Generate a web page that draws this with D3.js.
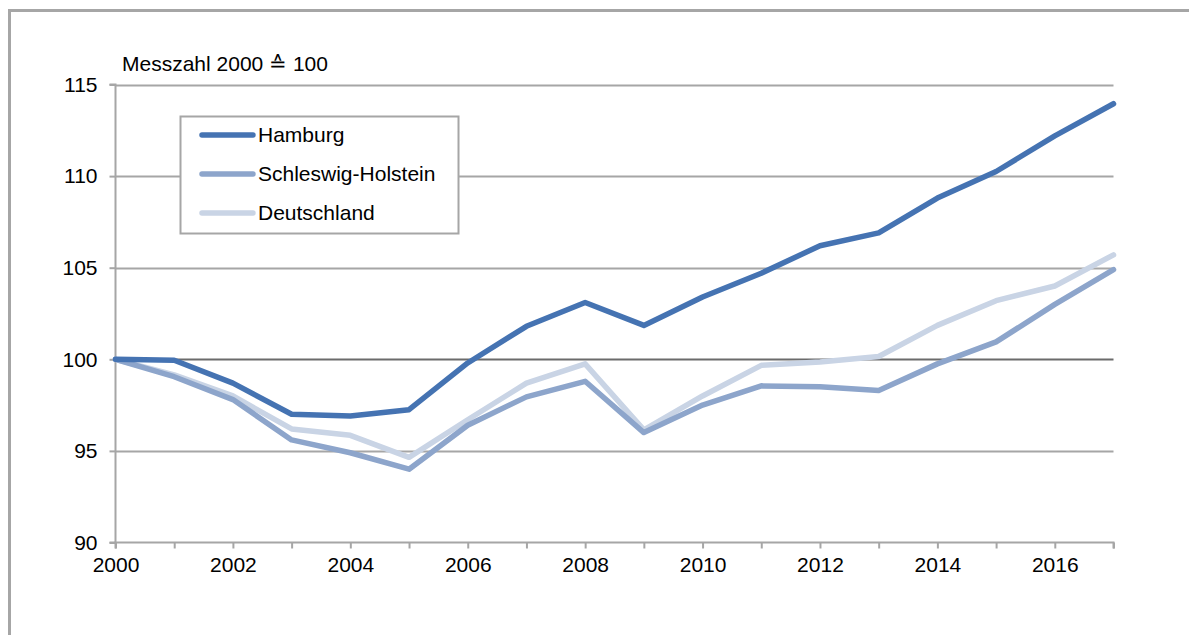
<!DOCTYPE html>
<html>
<head>
<meta charset="utf-8">
<script src="https://cdn.jsdelivr.net/npm/d3@7"></script>
<style>
  body { margin: 0; background: #fff; }
  text { font-family: "Liberation Sans", Arial, sans-serif; fill: #000; }
</style>
</head>
<body>
<div class="chart"></div>
<script>
// data
var years = [2000, 2001, 2002, 2003, 2004, 2005, 2006, 2007, 2008, 2009,
             2010, 2011, 2012, 2013, 2014, 2015, 2016, 2017];
var hamburg = [100, 99.95, 98.7, 97.0, 96.9, 97.25, 99.8, 101.8, 103.1, 101.85,
               103.4, 104.7, 106.2, 106.9, 108.8, 110.25, 112.2, 113.95];
var schleswig = [100, 99.05, 97.8, 95.6, 94.9, 94.0, 96.4, 97.95, 98.8, 96.0,
                 97.5, 98.55, 98.5, 98.3, 99.75, 100.95, 103.0, 104.9];
var deutschland = [100, 99.15, 98.0, 96.2, 95.85, 94.65, 96.7, 98.7, 99.75, 96.15,
                   98.0, 99.67, 99.85, 100.15, 101.85, 103.2, 104.0, 105.7];
var seriesNames = ['Hamburg', 'Schleswig-Holstein', 'Deutschland'];
var yTicks = [90, 95, 100, 105, 110, 115];
var xTicks = [2000, 2002, 2004, 2006, 2008, 2010, 2012, 2014, 2016];
var yTitle = 'Messzahl 2000 \u2259 100';

var width = 1189, height = 635;
var colors = ['#4573b2', '#8da5cb', '#c9d4e5'];
var fontSize = '21px';

var svg = d3.select('.chart')
  .append('svg')
  .attr('width', width)
  .attr('height', height);

// outer frame
svg.append('rect')
  .attr('x', 9.5).attr('y', 10.5)
  .attr('width', 1300).attr('height', 700)
  .attr('fill', 'none')
  .attr('stroke', '#a6a6a6')
  .attr('stroke-width', 3);

var xScale = d3.scaleLinear()
  .domain([2000, 2017])
  .range([115.5, 1113.5]);

var yScale = d3.scaleLinear()
  .domain([90, 115])
  .range([542.5, 84.5]);

// gridlines
svg.append('g')
  .selectAll('line')
  .data(yTicks.filter(function(d) { return d !== 90; }))
  .enter()
  .append('line')
  .attr('x1', xScale(2000))
  .attr('x2', xScale(2017))
  .attr('y1', function(d) { return Math.round(yScale(d)) + 0.5; })
  .attr('y2', function(d) { return Math.round(yScale(d)) + 0.5; })
  .attr('stroke', function(d) { return d === 100 ? '#6b6b6b' : '#a6a6a6'; })
  .attr('stroke-width', 2);

// AXES
var yAxis = d3.axisLeft(yScale)
  .tickValues(yTicks)
  .tickSize(6)
  .tickPadding(12)
  .tickFormat(d3.format('d'));

var xAxis = d3.axisBottom(xScale)
  .tickValues(years)
  .tickSize(6)
  .tickPadding(9)
  .tickFormat(function(d) { return xTicks.indexOf(d) >= 0 ? d : ''; });

var gy = svg.append('g')
  .attr('transform', 'translate(' + xScale(2000) + ',0)')
  .call(yAxis);

var gx = svg.append('g')
  .attr('transform', 'translate(0,' + yScale(90) + ')')
  .call(xAxis);

[gx, gy].forEach(function(g) {
  g.selectAll('path.domain').attr('stroke', '#a6a6a6').attr('stroke-width', 2);
  g.selectAll('.tick line').attr('stroke', '#a6a6a6').attr('stroke-width', 2);
  g.selectAll('text')
    .style('font-family', '"Liberation Sans", Arial, sans-serif')
    .style('font-size', fontSize)
    .attr('fill', '#000');
});
gx.select('path.domain').attr('d', 'M' + xScale(2000) + ',6V0H' + xScale(2017) + 'V6');
gy.select('path.domain').attr('d', 'M-6,' + yScale(115) + 'H0V' + yScale(90) + 'H-6');

svg.append('text')
  .attr('x', 122)
  .attr('y', 71)
  .style('font-size', fontSize)
  .text(yTitle);

// LINES
var allSeries = [hamburg, schleswig, deutschland];
var line = d3.line()
  .x(function(d, i) { return xScale(years[i]); })
  .y(function(d) { return yScale(d); });

// draw lighter ones first so Hamburg is on top
[2, 1, 0].forEach(function(k) {
  svg.append('path')
    .datum(allSeries[k])
    .attr('d', line)
    .attr('fill', 'none')
    .attr('stroke', colors[k])
    .attr('stroke-width', 5.5)
    .attr('stroke-linejoin', 'round')
    .attr('stroke-linecap', 'round');
});

// LEGEND
var legend = svg.append('g');
legend.append('rect')
  .attr('x', 180.5).attr('y', 116.5)
  .attr('width', 278).attr('height', 117)
  .attr('fill', '#fff')
  .attr('stroke', '#a6a6a6')
  .attr('stroke-width', 2);

var item = legend.selectAll('g.item')
  .data(seriesNames)
  .enter()
  .append('g')
  .attr('class', 'item')
  .attr('transform', function(d, i) { return 'translate(0,' + (135 + i * 39) + ')'; });

item.append('line')
  .attr('x1', 202).attr('x2', 253)
  .attr('stroke', function(d, i) { return colors[i]; })
  .attr('stroke-width', 5.5)
  .attr('stroke-linecap', 'round');

item.append('text')
  .attr('x', 258)
  .attr('dy', '0.35em')
  .style('font-size', fontSize)
  .text(function(d) { return d; });
</script>
</body>
</html>
